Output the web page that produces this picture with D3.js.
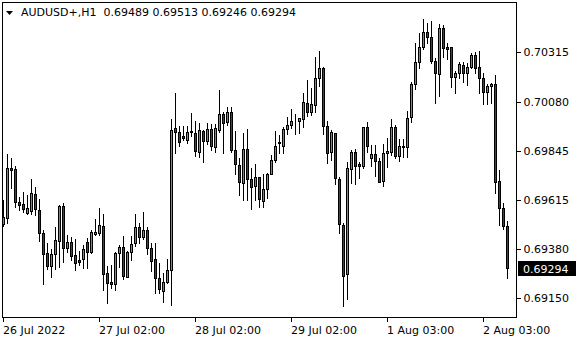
<!DOCTYPE html>
<html>
<head>
<meta charset="utf-8">
<script src="https://cdn.jsdelivr.net/npm/d3@7"></script>
<style>
	html, body { margin: 0; padding: 0; background: #fff; }
	svg { display: block; }
	text { font-family: "DejaVu Sans", sans-serif; font-size: 11px; fill: #000; white-space: pre; }
</style>
</head>
<body>
<svg id="chart" width="580" height="340"></svg>
<script>
'use strict';

const symbol = 'AUDUSD+,H1';

const open = [
	0.69500,0.69528,0.69765,0.69760,0.69604,0.69595,0.69552,0.69561,0.69642,0.69566,
	0.69457,0.69362,0.69301,0.69358,0.69419,0.69585,0.69386,0.69414,0.69353,0.69329,
	0.69334,0.69414,0.69367,0.69452,0.69457,0.69490,0.69267,0.69225,0.69215,0.69362,
	0.69391,0.69249,0.69367,0.69410,0.69486,0.69438,0.69471,0.69386,0.69334,0.69244,
	0.69182,0.69225,0.69282,0.69955,0.69936,0.69917,0.69898,0.69936,0.69931,0.69841,
	0.69941,0.69893,0.69950,0.69865,0.69945,0.70021,0.69983,0.70031,0.69850,0.69779,
	0.69694,0.69855,0.69713,0.69680,0.69723,0.69609,0.69666,0.69737,0.69803,0.69884,
	0.69869,0.69950,0.69969,0.69988,0.69988,0.69997,0.70073,0.70031,0.70064,0.70192,
	0.70239,0.69964,0.69841,0.69931,0.69713,0.69495,0.69263,0.69760,0.69841,0.69784,
	0.69775,0.69960,0.69813,0.69832,0.69798,0.69704,0.69836,0.69841,0.69960,0.69822,
	0.69865,0.69865,0.70007,0.70163,0.70268,0.70339,0.70410,0.70386,0.70272,0.70211,
	0.70429,0.70339,0.70339,0.70197,0.70215,0.70253,0.70215,0.70244,0.70301,0.70244,
	0.70192,0.70125,0.70154,0.70163,0.69704,0.69576,0.69489
];
const high = [
	0.69614,0.69832,0.69813,0.69775,0.69628,0.69651,0.69637,0.69713,0.69675,0.69618,
	0.69471,0.69410,0.69381,0.69486,0.69590,0.69599,0.69448,0.69438,0.69429,0.69372,
	0.69400,0.69433,0.69471,0.69523,0.69576,0.69547,0.69301,0.69305,0.69367,0.69400,
	0.69443,0.69372,0.69443,0.69547,0.69504,0.69557,0.69486,0.69410,0.69410,0.69315,
	0.69267,0.69334,0.69997,0.70121,0.69964,0.69964,0.69964,0.70026,0.69988,0.69978,
	0.69945,0.69978,0.69974,0.69974,0.70135,0.70031,0.70054,0.70054,0.69941,0.69813,
	0.69931,0.69950,0.69765,0.69784,0.69723,0.69737,0.69741,0.69827,0.69941,0.69922,
	0.69960,0.70007,0.70045,0.70021,0.70002,0.70121,0.70182,0.70144,0.70291,0.70320,
	0.70244,0.69988,0.69945,0.69931,0.69723,0.69504,0.69794,0.69850,0.69855,0.69794,
	0.69960,0.69983,0.69874,0.69874,0.69813,0.69879,0.69907,0.69997,0.69969,0.69903,
	0.69903,0.70035,0.70173,0.70358,0.70405,0.70471,0.70452,0.70462,0.70287,0.70448,
	0.70443,0.70358,0.70339,0.70225,0.70268,0.70268,0.70263,0.70310,0.70315,0.70320,
	0.70215,0.70163,0.70168,0.70206,0.69756,0.69599,0.69513
];
const low = [
	0.69490,0.69504,0.69670,0.69580,0.69566,0.69557,0.69547,0.69547,0.69542,0.69419,
	0.69215,0.69286,0.69249,0.69286,0.69296,0.69320,0.69367,0.69329,0.69282,0.69305,
	0.69291,0.69291,0.69362,0.69448,0.69448,0.69187,0.69125,0.69196,0.69187,0.69296,
	0.69239,0.69249,0.69329,0.69395,0.69410,0.69429,0.69358,0.69277,0.69173,0.69173,
	0.69130,0.69220,0.69116,0.69836,0.69869,0.69898,0.69884,0.69917,0.69822,0.69817,
	0.69794,0.69879,0.69850,0.69841,0.69936,0.69836,0.69969,0.69841,0.69737,0.69637,
	0.69614,0.69614,0.69571,0.69614,0.69580,0.69580,0.69623,0.69737,0.69794,0.69836,
	0.69836,0.69926,0.69955,0.69926,0.69931,0.69960,0.70012,0.70016,0.70031,0.70154,
	0.69926,0.69789,0.69803,0.69689,0.69457,0.69111,0.69144,0.69694,0.69689,0.69718,
	0.69765,0.69841,0.69775,0.69727,0.69699,0.69680,0.69770,0.69827,0.69813,0.69798,
	0.69817,0.69817,0.69983,0.70140,0.70239,0.70329,0.70358,0.70263,0.70073,0.70106,
	0.70291,0.70282,0.70149,0.70121,0.70192,0.70173,0.70159,0.70239,0.70215,0.70121,
	0.70069,0.70069,0.70073,0.69647,0.69495,0.69476,0.69246
];
const close = [
	0.69533,0.69765,0.69756,0.69604,0.69590,0.69571,0.69576,0.69647,0.69571,0.69457,
	0.69358,0.69301,0.69358,0.69424,0.69585,0.69386,0.69414,0.69348,0.69315,0.69320,
	0.69381,0.69367,0.69462,0.69462,0.69495,0.69263,0.69220,0.69215,0.69362,0.69391,
	0.69253,0.69367,0.69405,0.69486,0.69438,0.69471,0.69386,0.69324,0.69244,0.69192,
	0.69225,0.69282,0.69945,0.69936,0.69888,0.69907,0.69936,0.69941,0.69846,0.69945,
	0.69893,0.69950,0.69869,0.69955,0.70021,0.69978,0.70031,0.69850,0.69784,0.69699,
	0.69855,0.69713,0.69675,0.69723,0.69618,0.69666,0.69737,0.69803,0.69869,0.69888,
	0.69950,0.69969,0.69988,0.69990,0.70002,0.70078,0.70031,0.70069,0.70192,0.70239,
	0.69964,0.69836,0.69936,0.69718,0.69500,0.69253,0.69765,0.69841,0.69775,0.69775,
	0.69960,0.69869,0.69832,0.69798,0.69699,0.69836,0.69846,0.69960,0.69822,0.69869,
	0.69869,0.70002,0.70163,0.70268,0.70339,0.70410,0.70386,0.70272,0.70215,0.70429,
	0.70334,0.70329,0.70197,0.70215,0.70258,0.70215,0.70244,0.70301,0.70239,0.70192,
	0.70125,0.70154,0.70163,0.69699,0.69576,0.69490,0.69294
];

const priceTicks = [0.70315, 0.70080, 0.69845, 0.69615, 0.69380, 0.69150];
const timeTickBars = [0, 24, 48, 72, 96, 120];
const timeTickLabels = ['26 Jul 2022', '27 Jul 02:00', '28 Jul 02:00', '29 Jul 02:00', '1 Aug 03:00', '2 Aug 03:00'];

const bullColor = '#00e000';
const bearColor = '#e00000';

const frame = {left: 2, top: 2, right: 516, bottom: 317};

const svg = d3.select('#chart');

const x = d3.scaleLinear().domain([0, open.length - 1]).range([3, 3 + 4 * (open.length - 1)]);
const y = d3.scaleLinear().domain([0.69150, 0.70315]).range([298, 52]);
const py = v => Math.round(y(v));

const candles = open.map((o, i) => ({
	i, o, h: high[i], l: low[i], c: close[i]
}));

// frame
svg.append('rect')
	.attr('x', frame.left + 0.5).attr('y', frame.top + 0.5)
	.attr('width', frame.right - frame.left).attr('height', frame.bottom - frame.top)
	.attr('fill', '#fff').attr('stroke', '#000').attr('shape-rendering', 'crispEdges');

const plot = svg.append('g').attr('shape-rendering', 'crispEdges');

// wicks
plot.selectAll('line.wick')
	.data(candles)
	.join('line')
	.attr('class', 'wick')
	.attr('x1', d => x(d.i) + 0.5).attr('x2', d => x(d.i) + 0.5)
	.attr('y1', d => py(d.h)).attr('y2', d => py(d.l) + 1)
	.attr('stroke', '#000');

// bodies
plot.selectAll('rect.body')
	.data(candles)
	.join('rect')
	.attr('class', 'body')
	.attr('x', d => x(d.i) - 0.5)
	.attr('y', d => Math.min(py(d.o), py(d.c)) + 0.5)
	.attr('width', 2)
	.attr('height', d => Math.abs(py(d.o) - py(d.c)))
	.attr('fill', d => d.c >= d.o ? bullColor : bearColor)
	.attr('stroke', '#000');

// price axis
const yAxis = d3.axisRight(y)
	.tickValues(priceTicks)
	.tickFormat(d3.format('.5f'))
	.tickSize(4)
	.tickPadding(3);

const yg = svg.append('g')
	.attr('transform', `translate(${frame.right + 0.5},0)`)
	.call(yAxis);
yg.select('.domain').remove();
yg.selectAll('.tick line').attr('stroke', '#000').attr('shape-rendering', 'crispEdges');
yg.selectAll('.tick text')
	.attr('font-family', '"DejaVu Sans", sans-serif')
	.attr('font-size', 11)
	.attr('fill', '#000');

// current price
const last = close[close.length - 1];
const lastY = y(last);
svg.append('rect')
	.attr('x', frame.right + 2).attr('y', Math.round(lastY) - 7)
	.attr('width', 58).attr('height', 15)
	.attr('fill', '#000');
svg.append('text')
	.attr('x', frame.right + 7).attr('y', Math.round(lastY) + 4.5)
	.style('fill', '#fff')
	.text(d3.format('.5f')(last));

// time axis
const xg = svg.append('g').attr('shape-rendering', 'crispEdges');
xg.selectAll('line')
	.data(timeTickBars)
	.join('line')
	.attr('x1', d => x(d) + 0.5).attr('x2', d => x(d) + 0.5)
	.attr('y1', frame.bottom).attr('y2', frame.bottom + 5)
	.attr('stroke', '#000');
svg.append('g').selectAll('text')
	.data(timeTickBars)
	.join('text')
	.attr('x', d => x(d))
	.attr('y', 334)
	.text((d, k) => timeTickLabels[k]);

// title
svg.append('path')
	.attr('d', 'M6,11 L13,11 L9.5,15 Z')
	.attr('fill', '#000');
svg.append('text')
	.attr('x', 21).attr('y', 16)
	.text(`${symbol}  ${[open, high, low, close].map(a => a[a.length - 1].toFixed(5)).join(' ')}`);
</script>
</body>
</html>
